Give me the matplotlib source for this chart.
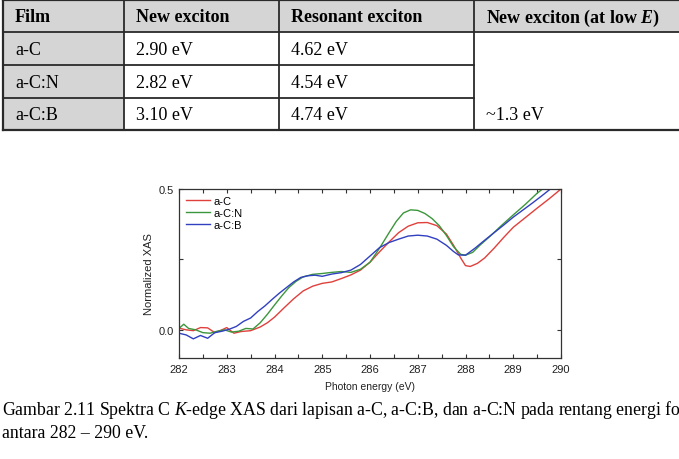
import matplotlib
matplotlib.use('Agg')
import matplotlib.pyplot as plt
from matplotlib.patches import Rectangle
from matplotlib.lines import Line2D

plt.rcParams['mathtext.fontset'] = 'custom'
plt.rcParams['mathtext.rm'] = 'Liberation Serif'
plt.rcParams['mathtext.it'] = 'Liberation Serif:italic'
plt.rcParams['mathtext.bf'] = 'Liberation Serif:bold'
plt.rcParams['mathtext.bfit'] = 'Liberation Serif:italic:bold'

# table content
headers = ['Film', 'New exciton', 'Resonant exciton', r'New exciton (at low $\mathbfit{E}$)']
films = ['a-C', 'a-C:N', 'a-C:B']
new_exciton = ['2.90 eV', '2.82 eV', '3.10 eV']
resonant_exciton = ['4.62 eV', '4.54 eV', '4.74 eV']
low_e_exciton = '~1.3 eV'

# XAS spectra
e_c = [282.0, 282.15, 282.3, 282.45, 282.6, 282.75, 282.9, 283.0, 283.15, 283.3, 283.5,
       283.7, 283.85, 284.0, 284.2, 284.4, 284.6, 284.8, 285.0, 285.2, 285.4, 285.6, 285.8,
       286.0, 286.2, 286.4, 286.6, 286.8, 287.0, 287.2, 287.4, 287.6, 287.75, 287.9, 288.0,
       288.1, 288.25, 288.4, 288.6, 288.8, 289.0, 289.25, 289.5, 289.75, 290.0]
xas_c = [0.006, 0.0, -0.003, 0.008, 0.007, -0.01, 0.0, 0.008, -0.012, -0.006, -0.003,
         0.01, 0.025, 0.045, 0.078, 0.11, 0.138, 0.155, 0.165, 0.170, 0.182, 0.195, 0.212,
         0.24, 0.277, 0.312, 0.345, 0.368, 0.380, 0.381, 0.37, 0.34, 0.30, 0.255, 0.228,
         0.225, 0.236, 0.255, 0.29, 0.328, 0.364, 0.398, 0.432, 0.465, 0.5]

e_cn = [282.0, 282.1, 282.2, 282.35, 282.5, 282.65, 282.8, 282.95, 283.1, 283.25, 283.4,
        283.55, 283.7, 283.85, 284.0, 284.15, 284.3, 284.45, 284.6, 284.8, 285.0, 285.2,
        285.4, 285.6, 285.8, 286.0, 286.2, 286.4, 286.55, 286.7, 286.85, 287.0, 287.15,
        287.3, 287.45, 287.6, 287.75, 287.9, 288.0, 288.15, 288.3, 288.5, 288.75, 289.0,
        289.25, 289.5, 289.65]
xas_cn = [0.005, 0.02, 0.005, 0.0, -0.01, -0.012, -0.005, 0.0, -0.008, -0.005, 0.005,
          0.003, 0.025, 0.055, 0.088, 0.12, 0.15, 0.172, 0.188, 0.197, 0.2, 0.204,
          0.207, 0.204, 0.215, 0.24, 0.29, 0.345, 0.385, 0.415, 0.426, 0.424, 0.413,
          0.395, 0.37, 0.335, 0.295, 0.268, 0.265, 0.275, 0.3, 0.33, 0.37, 0.408,
          0.445, 0.485, 0.505]

e_cb = [282.0, 282.15, 282.3, 282.45, 282.6, 282.75, 282.9, 283.05, 283.2, 283.35, 283.5,
        283.65, 283.8, 283.95, 284.1, 284.25, 284.4, 284.55, 284.7, 284.85, 285.0, 285.2,
        285.4, 285.6, 285.8, 286.0, 286.2, 286.4, 286.6, 286.8, 287.0, 287.2, 287.4, 287.6,
        287.75, 287.85, 288.0, 288.2, 288.4, 288.6, 288.8, 289.0, 289.2, 289.4, 289.6, 289.8]
xas_cb = [-0.012, -0.018, -0.032, -0.02, -0.03, -0.01, -0.005, 0.002, 0.012, 0.03, 0.042,
          0.065, 0.085, 0.108, 0.13, 0.15, 0.17, 0.186, 0.192, 0.194, 0.19, 0.198,
          0.203, 0.212, 0.232, 0.262, 0.292, 0.31, 0.322, 0.333, 0.336, 0.333, 0.322, 0.3,
          0.278, 0.266, 0.265, 0.29, 0.318, 0.345, 0.372, 0.4, 0.425, 0.45, 0.476, 0.503]

W, H = 679, 460
fig = plt.figure(figsize=(W / 100, H / 100), dpi=100)

def fx(px):
    return px / W

def fy(py):
    return 1 - py / H

# ---------------- table ----------------
col_x = [3, 124, 279, 474, 700]
row_y = [1, 33, 66, 99, 131]
gray = '#d5d5d5'
serif = 'Liberation Serif'
edge = '#2a2a2a'

# backgrounds: header row and film column
fig.patches.append(Rectangle((fx(col_x[0]), fy(row_y[1])), fx(col_x[4] - col_x[0]),
                             (row_y[1] - row_y[0]) / H, transform=fig.transFigure,
                             facecolor=gray, edgecolor='none'))
fig.patches.append(Rectangle((fx(col_x[0]), fy(row_y[4])), fx(col_x[1] - col_x[0]),
                             (row_y[4] - row_y[1]) / H, transform=fig.transFigure,
                             facecolor=gray, edgecolor='none'))

def hline(y, x0, x1, lw=1.3):
    fig.add_artist(Line2D([fx(x0), fx(x1)], [fy(y), fy(y)], color=edge, lw=lw,
                          transform=fig.transFigure))

def vline(x, y0, y1, lw=1.3):
    fig.add_artist(Line2D([fx(x), fx(x)], [fy(y0), fy(y1)], color=edge, lw=lw,
                          transform=fig.transFigure))

hline(row_y[0], col_x[0], W, lw=1.6)
hline(row_y[1], col_x[0], W)
hline(row_y[2], col_x[0], col_x[3])
hline(row_y[3], col_x[0], col_x[3])
hline(row_y[4], col_x[0], W, lw=1.6)
for x in col_x[:4]:
    vline(x, row_y[0], row_y[4], lw=1.6 if x == col_x[0] else 1.3)

pad = 12
for j, h in enumerate(headers):
    fig.text(fx(col_x[j] + pad), fy((row_y[0] + row_y[1]) / 2 + 1), h, fontsize=13,
             family=serif, fontweight='bold', ha='left', va='center')
for i in range(3):
    yc = fy((row_y[i + 1] + row_y[i + 2]) / 2 + 1)
    for j, val in enumerate([films[i], new_exciton[i], resonant_exciton[i]]):
        fig.text(fx(col_x[j] + pad), yc, val, fontsize=13, family=serif,
                 ha='left', va='center')
fig.text(fx(col_x[3] + pad), fy((row_y[3] + row_y[4]) / 2 + 1), low_e_exciton,
         fontsize=13, family=serif, ha='left', va='center')

# ---------------- plot ----------------
ax = fig.add_axes([fx(179), fy(359), fx(561 - 179), (359 - 190) / H])
ax.plot(e_c, xas_c, color='#e0403c', lw=1.0, label='a-C')
ax.plot(e_cn, xas_cn, color='#3c963c', lw=1.0, label='a-C:N')
ax.plot(e_cb, xas_cb, color='#3040c0', lw=1.0, label='a-C:B')

ax.set_xlim(282, 290)
ax.set_ylim(-0.1, 0.5)
ax.set_xticks(range(282, 291))
ax.set_xticks([282.5 + k for k in range(8)], minor=True)
ax.set_yticks([0.0, 0.5])
ax.set_yticks([0.25], minor=True)
ax.set_yticklabels(['0.0', '0.5'])
ax.tick_params(which='both', direction='in', top=True, right=True, length=3,
               width=0.8, color='#333333', labelsize=8, pad=4)
for lab in ax.get_xticklabels() + ax.get_yticklabels():
    lab.set_family('Liberation Sans')
    lab.set_color('#222222')
for s in ax.spines.values():
    s.set_color('#333333')
    s.set_linewidth(0.9)

ax.set_xlabel('Photon energy (eV)', fontsize=7.5, family='Liberation Sans',
              color='#222222', labelpad=5)
ax.set_ylabel('Normalized XAS', fontsize=8, family='Liberation Sans',
              color='#222222', labelpad=3)

leg = ax.legend(loc='upper left', frameon=False,
                prop={'family': 'Liberation Sans', 'size': 8},
                handlelength=2.1, handletextpad=0.35, labelspacing=0.15,
                borderaxespad=0.25, bbox_to_anchor=(0.0, 1.0))

# ---------------- caption ----------------
fig.text(fx(2), fy(410),
         r'Gambar 2.11 Spektra C $K$-edge XAS dari lapisan a-C, a-C:B, dan a-C:N pada rentang energi foton',
         fontsize=12.8, family=serif, ha='left', va='center')
fig.text(fx(2), fy(434), 'antara 282 \u2013 290 eV.', fontsize=12.8, family=serif,
         ha='left', va='center')

fig.savefig('out.png', dpi=100)
